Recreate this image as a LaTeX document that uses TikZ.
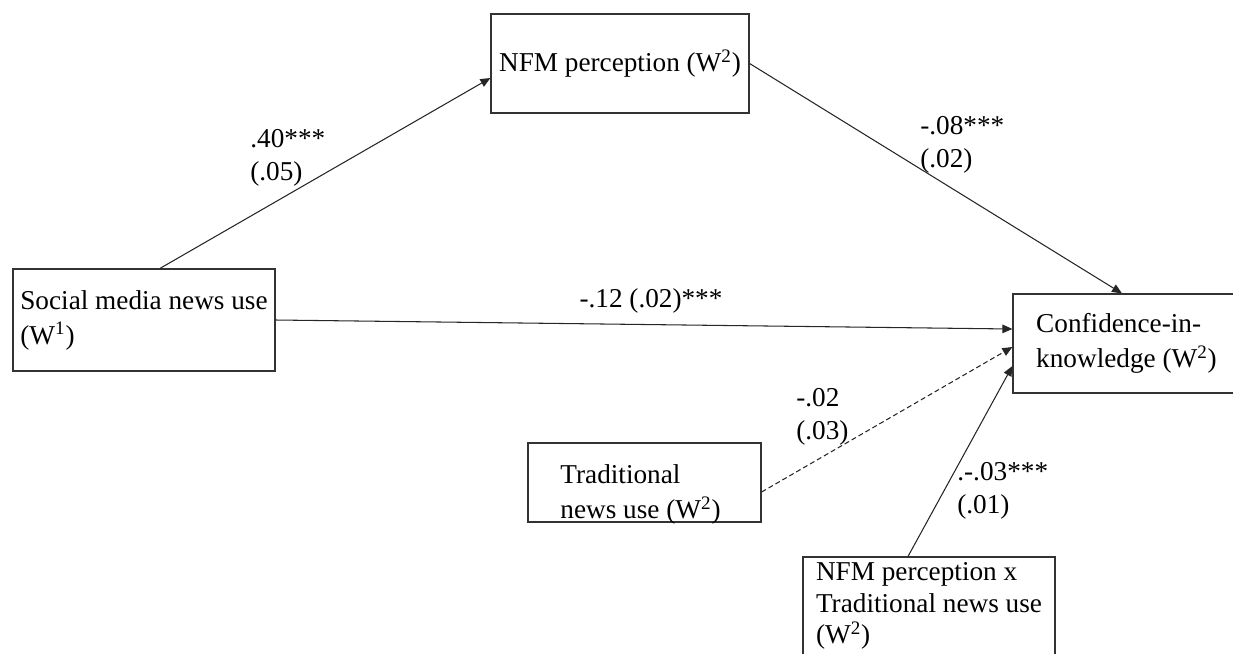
\documentclass[tikz,border=0pt]{standalone}
\usepackage{fontspec}
\setmainfont{Liberation Serif}
\usetikzlibrary{arrows.meta}
\begin{document}
\begin{tikzpicture}[x=0.02cm, y=-0.02cm, font=\fontsize{15.5}{19.9}\selectfont,
  box/.style={draw=black!80, line width=0.7pt, align=left, inner sep=0pt},
  boxtext/.style={align=left, inner sep=0pt},
  coef/.style={align=left, inner sep=0pt, anchor=west, font=\fontsize{15.5}{18.5}\selectfont},
  effect/.style={-{Triangle[length=0.2cm,width=0.17cm]}, line width=0.6pt, black!85}]
  \useasboundingbox (0,0) rectangle (1233,653);
  \clip (0,0) rectangle (1233,653);

  \node[box, minimum width=5.16cm, minimum height=1.98cm] (nfm) at (620,63.5) {NFM perception (W\textsuperscript{2})};
  \node[box, minimum width=5.24cm, minimum height=2.04cm] (soc) at (144,320) {Social media news use\\(W\textsuperscript{1})};
  \node[box, minimum width=4.54cm, minimum height=1.98cm] (conf) at (1126.5,343.5) {Confidence-in-\\knowledge (W\textsuperscript{2})};
  \node[box, minimum width=4.66cm, minimum height=1.58cm,
    label={[boxtext, name=trad-text, xshift=-0.08cm, yshift=-0.24cm]center:Traditional\\news use (W\textsuperscript{2})}] (trad) at (644.5,482.5) {};
  \node[box, minimum width=5.04cm, minimum height=2.6cm,
    label={[boxtext, name=inter-text, yshift=0.32cm, font=\fontsize{15.5}{18.1}\selectfont]center:NFM perception x\\Traditional news use\\(W\textsuperscript{2})}] (inter) at (929,622) {};

  \draw[effect] ([xshift=0.32cm]soc.north) -- ([yshift=-0.29cm]nfm.west);
  \draw[effect] (nfm.east) -- ([xshift=-0.09cm]conf.north);
  \draw[effect] (soc.east) -- ([yshift=0.29cm]conf.west);
  \draw[effect, dash pattern=on 0.1cm off 0.06cm] ([yshift=-0.19cm]trad.east) -- ([yshift=-0.07cm]conf.west);
  \draw[effect] ([xshift=-0.42cm]inter.north) -- ([yshift=-0.45cm]conf.west);

  \node[coef] (b-sn) at (250,158) {.40***\\(.05)};
  \node[coef] (b-nc) at (920,145) {-.08***\\(.02)};
  \node[coef, anchor=center] (b-sc) at (651,301) {-.12 (.02)***};
  \node[coef] (b-tc) at (796,417) {-.02\\(.03)};
  \node[coef] (b-ic) at (957,491) {.-.03***\\(.01)};
\end{tikzpicture}
\end{document}
